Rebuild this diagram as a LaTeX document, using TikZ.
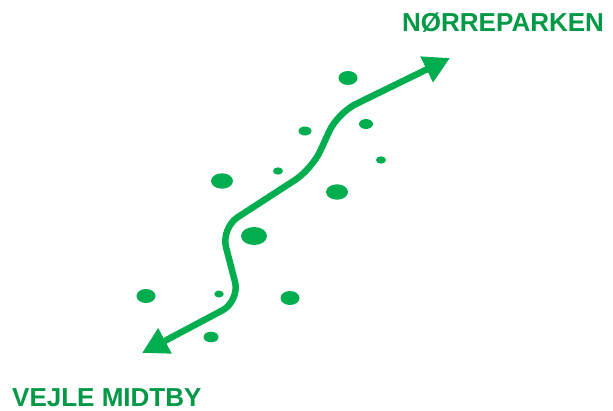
\documentclass[tikz,border=0pt]{standalone}
\usepackage{fontspec}
\setmainfont{Liberation Sans}
\usetikzlibrary{arrows.meta}
\definecolor{lineg}{RGB}{0,173,79}
\definecolor{textg}{RGB}{0,153,70}
\tikzset{
  route/.style={draw=lineg, line width=6.5pt, line cap=butt, line join=round,
    {Triangle[length=26pt,width=27pt]}-{Triangle[length=26pt,width=27pt]}},
  dot/.style={fill=lineg, draw=none},
  place/.style={text=textg, font=\bfseries\fontsize{26}{30}\selectfont, inner sep=0pt}
}
\begin{document}
\begin{tikzpicture}[x=1pt,y=-1pt]
\useasboundingbox (0,0) rectangle (613,410);
% dots
\fill[dot] (348,78) ellipse [x radius=9.5, y radius=7];
\fill[dot] (305,131) ellipse [x radius=6.5, y radius=4.5];
\fill[dot] (366,124) ellipse [x radius=7, y radius=5];
\fill[dot] (381,160) ellipse [x radius=5, y radius=3.7];
\fill[dot] (278,171) ellipse [x radius=5, y radius=3.7];
\fill[dot] (222,181) ellipse [x radius=11, y radius=7.7];
\fill[dot] (337,192) ellipse [x radius=11, y radius=7.7];
\fill[dot] (254,236) ellipse [x radius=13, y radius=9];
\fill[dot] (146,296) ellipse [x radius=9.5, y radius=7];
\fill[dot] (219,294) ellipse [x radius=4.7, y radius=3.5];
\fill[dot] (290,298) ellipse [x radius=9.5, y radius=7];
\fill[dot] (211,337) ellipse [x radius=7.5, y radius=5.3];
% route
\coordinate (tipA) at (142,353);
\coordinate (cB) at (240,301);
\coordinate (cC) at (221,228);
\coordinate (cD) at (312,169);
\coordinate (cE) at (337.6,113);
\coordinate (tipF) at (450,58);
\draw[route, rounded corners=20pt] (tipA) -- (cB) -- (cC) -- (cD) -- (cE) -- (tipF);
% labels
\node[place, anchor=base west] (north) at (402,31.5) {NØRREPARKEN};
\node[place, anchor=base west] (south) at (12,406.5) {VEJLE MIDTBY};
\end{tikzpicture}
\end{document}
